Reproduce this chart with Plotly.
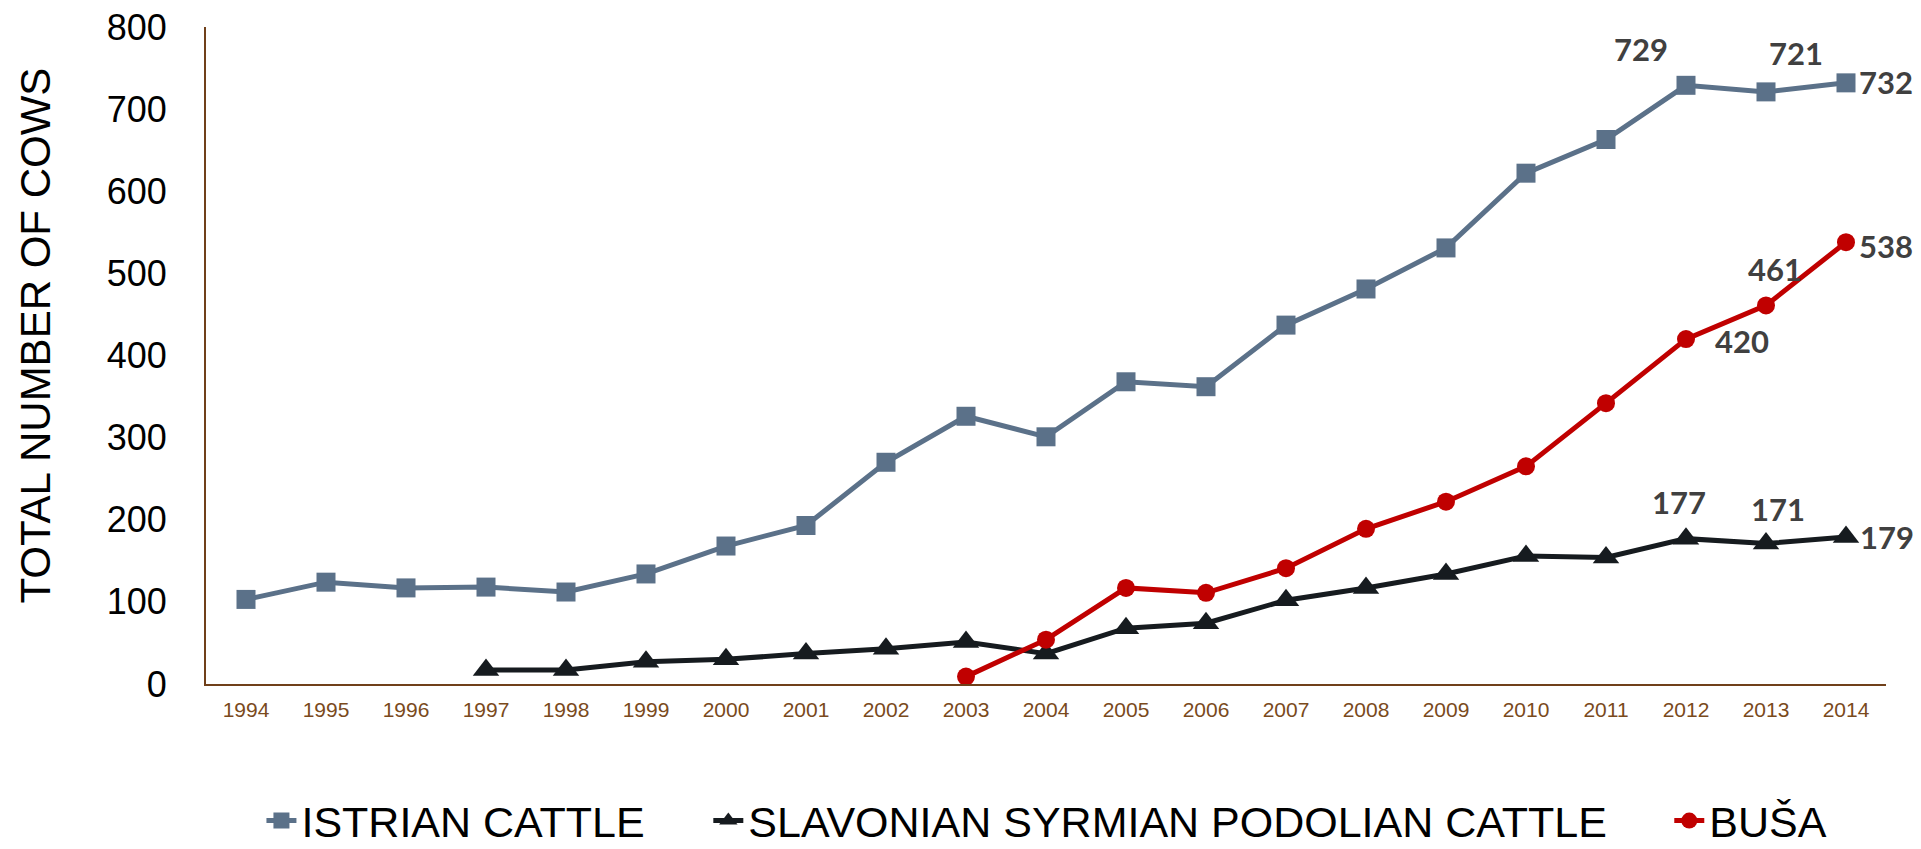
import plotly.graph_objects as go

years = list(range(1994, 2015))

istrian = [103, 124, 117, 118, 112, 134, 168, 193, 270, 326, 301, 368, 362, 437,
           481, 531, 622, 663, 729, 721, 732]
slavonian = [None, None, None, 17, 17, 27, 30, 37, 43, 51, 37, 68, 74, 102,
             117, 134, 156, 154, 177, 171, 179]
busa = [None] * 9 + [9, 54, 117, 111, 141, 189, 222, 265, 342, 420, 461, 538]

names = ['ISTRIAN CATTLE', 'SLAVONIAN SYRMIAN PODOLIAN CATTLE', 'BUŠA']
colors = ['#5B7189', '#161B1F', '#C00000']
symbols = ['square', 'triangle-up', 'circle']
sizes = [19, 23, 18]
series = [istrian, slavonian, busa]

# years that carry a value label, per series
label_years = [[2012, 2013, 2014], [2012, 2013, 2014], [2012, 2013, 2014]]

# label placement (xshift, yshift, xanchor) per labelled point
label_pos = [
    [(-45, 36, 'center'), (30, 39, 'center'), (11, 1, 'left')],
    [(-7, 37, 'center'), (12, 35, 'center'), (12, 0, 'left')],
    [(27, -2, 'left'), (9, 36, 'center'), (11, -4, 'left')],
]

# each series gets its own legend so the entries can be spaced like the original
legend_ids = ['legend', 'legend2', 'legend3']
legend_x = [0.033, 0.299, 0.871]

fig = go.Figure()

for name, vals, col, sym, sz, lg in zip(names, series, colors, symbols, sizes, legend_ids):
    fig.add_trace(go.Scatter(
        x=years, y=vals, name=name, mode='lines+markers',
        line=dict(color=col, width=5),
        marker=dict(symbol=sym, size=sz, color=col),
        connectgaps=False, legend=lg
    ))

for vals, yrs, pos in zip(series, label_years, label_pos):
    for yr, (dx, dy, anchor) in zip(yrs, pos):
        v = vals[years.index(yr)]
        fig.add_annotation(x=yr, y=v, text=str(v), showarrow=False,
                           xshift=dx, yshift=dy, xanchor=anchor, yanchor='middle',
                           font=dict(family='Lato', size=31, color='#404040', weight='bold'))

# y title as a rotated annotation (sits a bit above the plot centre in the original)
fig.add_annotation(text='TOTAL NUMBER OF COWS', textangle=-90, showarrow=False,
                   xref='paper', yref='paper', x=-0.1015, y=0.531,
                   xanchor='center', yanchor='middle',
                   font=dict(size=42, color='black'))

legend_style = dict(orientation='h', xanchor='left', y=-0.208, yanchor='middle',
                    font=dict(size=43, color='black'), bgcolor='rgba(0,0,0,0)')

# page body has an 8px margin, so the figure is 8px smaller than the window
fig.update_layout(
    width=1913, height=841,
    margin=dict(l=198, r=35, t=19, b=165, autoexpand=False),
    plot_bgcolor='white', paper_bgcolor='white',
    font=dict(family='Liberation Sans', color='black'),
    showlegend=True,
    legend=dict(x=legend_x[0], **legend_style),
    legend2=dict(x=legend_x[1], **legend_style),
    legend3=dict(x=legend_x[2], **legend_style),
)

fig.update_xaxes(
    range=[1993.5, 2014.5], tickmode='array', tickvals=years,
    showgrid=False, zeroline=False,
    showline=True, linecolor='#70401A', linewidth=2,
    tickfont=dict(size=21, color='#7A4A1C'), ticklabelstandoff=6
)

fig.update_yaxes(
    range=[0, 800], dtick=100, showgrid=False, zeroline=False,
    showline=True, linecolor='#70401A', linewidth=2,
    tickfont=dict(size=36, color='black'), ticklabelstandoff=30,
    ticklabeloverflow='allow'
)

fig.write_html("out.html")
